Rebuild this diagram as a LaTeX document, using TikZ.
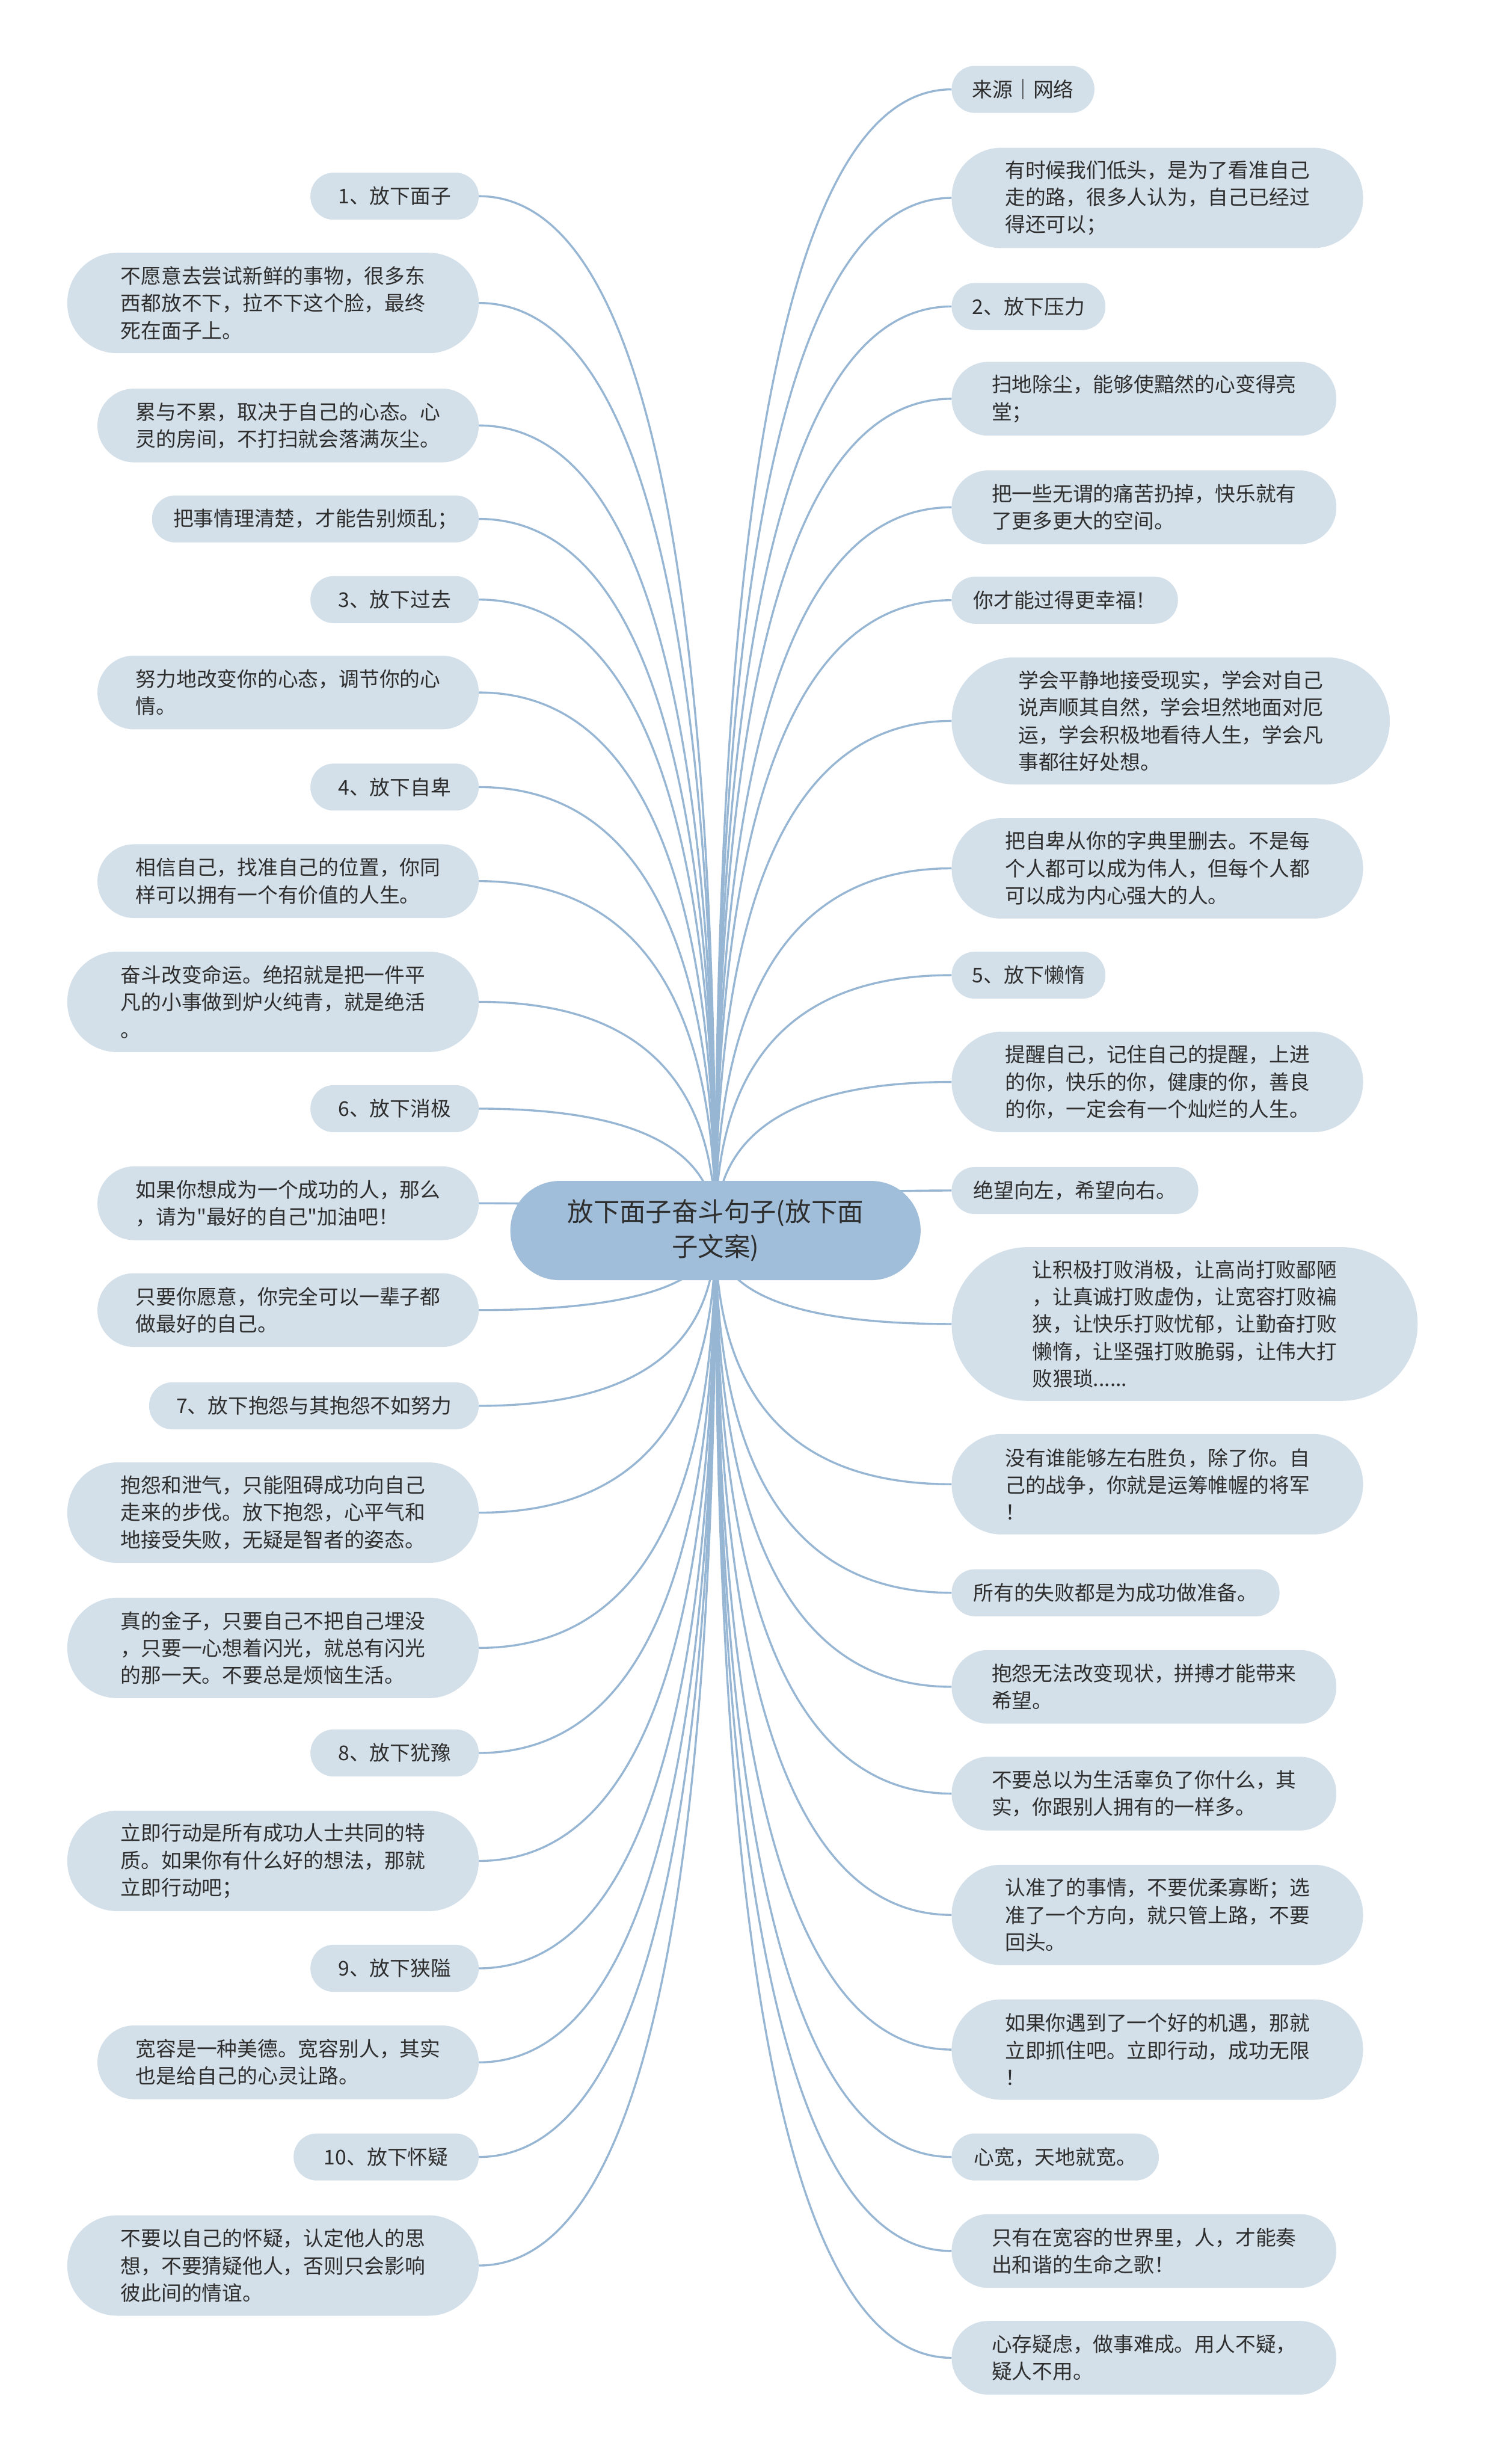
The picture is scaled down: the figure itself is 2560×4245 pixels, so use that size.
\documentclass[tikz,border=0pt]{standalone}
\usepackage{fontspec}
\newfontfamily\cjk{Noto Sans CJK SC}
\usetikzlibrary{calc,backgrounds}
\definecolor{leafc}{HTML}{D3E0EA}
\definecolor{ctrc}{HTML}{A0BED9}
\definecolor{linec}{HTML}{97B6D4}
\definecolor{txtc}{HTML}{2E2E2E}
\tikzset{
  leaf/.style={fill=leafc, text=txtc, inner sep=0pt, align=left,
    font=\cjk\fontsize{35}{47}\selectfont},
  ctrnode/.style={fill=ctrc, text=txtc, inner sep=0pt, align=center,
    font=\cjk\fontsize{45}{60}\selectfont,
    minimum width=707pt, minimum height=171pt, rounded corners=85pt},
  cline/.style={draw=linec, line width=3.5pt},
}
\newcommand\mkleaf[6]{%
  \pgfmathsetmacro\hh{81+46*(#5-1)}%
  \pgfmathsetmacro\ww{#3-#2}%
  \pgfmathsetmacro\xc{(#2+#3)/2}%
  \pgfmathsetmacro\rr{\hh/2-0.5}%
  \node[leaf, minimum width=\ww pt, minimum height=\hh pt, rounded corners=\rr pt] (#1) at (\xc,#4) {#6};%
}
\newcommand\conn[2]{%
  \draw[cline] (ctr.center) .. controls ($(ctr.center)!0.6667!(ctr.center|-#1.#2)$) and ($(#1.#2)!0.6667!(ctr.center|-#1.#2)$) .. (#1.#2);%
}
\begin{document}
\begin{tikzpicture}[x=1pt,y=-1pt]
\useasboundingbox (0,0) rectangle (2560,4245);
\node[ctrnode] (ctr) at (1233,2120) {放下面子奋斗句子(放下面\\子文案)};
% left column
\mkleaf{L1}{535}{825}{338}{1}{1、放下面子}
\mkleaf{L2}{116}{825}{522}{3}{不愿意去尝试新鲜的事物，很多东\\西都放不下，拉不下这个脸，最终\\死在面子上。}
\mkleaf{L3}{168}{825}{733}{2}{累与不累，取决于自己的心态。心\\灵的房间，不打扫就会落满灰尘。}
\mkleaf{L4}{262}{825}{894}{1}{把事情理清楚，才能告别烦乱；}
\mkleaf{L5}{535}{825}{1033}{1}{3、放下过去}
\mkleaf{L6}{168}{825}{1193}{2}{努力地改变你的心态，调节你的心\\情。}
\mkleaf{L7}{535}{825}{1356}{1}{4、放下自卑}
\mkleaf{L8}{168}{825}{1518}{2}{相信自己，找准自己的位置，你同\\样可以拥有一个有价值的人生。}
\mkleaf{L9}{116}{825}{1726}{3}{奋斗改变命运。绝招就是把一件平\\凡的小事做到炉火纯青，就是绝活\\。}
\mkleaf{L10}{535}{825}{1910}{1}{6、放下消极}
\mkleaf{L11}{168}{825}{2073}{2}{如果你想成为一个成功的人，那么\\，请为"最好的自己"加油吧！}
\mkleaf{L12}{168}{825}{2257}{2}{只要你愿意，你完全可以一辈子都\\做最好的自己。}
\mkleaf{L13}{257}{825}{2422}{1}{7、放下抱怨与其抱怨不如努力}
\mkleaf{L14}{116}{825}{2606}{3}{抱怨和泄气，只能阻碍成功向自己\\走来的步伐。放下抱怨，心平气和\\地接受失败，无疑是智者的姿态。}
\mkleaf{L15}{116}{825}{2839}{3}{真的金子，只要自己不把自己埋没\\，只要一心想着闪光，就总有闪光\\的那一天。不要总是烦恼生活。}
\mkleaf{L16}{535}{825}{3020}{1}{8、放下犹豫}
\mkleaf{L17}{116}{825}{3206}{3}{立即行动是所有成功人士共同的特\\质。如果你有什么好的想法，那就\\立即行动吧；}
\mkleaf{L18}{535}{825}{3391}{1}{9、放下狭隘}
\mkleaf{L19}{168}{825}{3553}{2}{宽容是一种美德。宽容别人，其实\\也是给自己的心灵让路。}
\mkleaf{L20}{506}{825}{3716}{1}{10、放下怀疑}
\mkleaf{L21}{116}{825}{3903}{3}{不要以自己的怀疑，认定他人的思\\想，不要猜疑他人，否则只会影响\\彼此间的情谊。}
% right column
\mkleaf{R1}{1640}{1886}{154}{1}{来源｜网络}
\mkleaf{R2}{1640}{2349}{341}{3}{有时候我们低头，是为了看准自己\\走的路，很多人认为，自己已经过\\得还可以；}
\mkleaf{R3}{1640}{1905}{528}{1}{2、放下压力}
\mkleaf{R4}{1640}{2303}{687}{2}{扫地除尘，能够使黯然的心变得亮\\堂；}
\mkleaf{R5}{1640}{2303}{874}{2}{把一些无谓的痛苦扔掉，快乐就有\\了更多更大的空间。}
\mkleaf{R6}{1640}{2030}{1034}{1}{你才能过得更幸福！}
\mkleaf{R7}{1640}{2395}{1242}{4}{学会平静地接受现实，学会对自己\\说声顺其自然，学会坦然地面对厄\\运，学会积极地看待人生，学会凡\\事都往好处想。}
\mkleaf{R8}{1640}{2349}{1496}{3}{把自卑从你的字典里删去。不是每\\个人都可以成为伟人，但每个人都\\可以成为内心强大的人。}
\mkleaf{R9}{1640}{1905}{1680}{1}{5、放下懒惰}
\mkleaf{R10}{1640}{2349}{1864}{3}{提醒自己，记住自己的提醒，上进\\的你，快乐的你，健康的你，善良\\的你，一定会有一个灿烂的人生。}
\mkleaf{R11}{1640}{2065}{2051}{1}{绝望向左，希望向右。}
\mkleaf{R12}{1640}{2443}{2281}{5}{让积极打败消极，让高尚打败鄙陋\\，让真诚打败虚伪，让宽容打败褊\\狭，让快乐打败忧郁，让勤奋打败\\懒惰，让坚强打败脆弱，让伟大打\\败猥琐......}
\mkleaf{R13}{1640}{2349}{2557}{3}{没有谁能够左右胜负，除了你。自\\己的战争，你就是运筹帷幄的将军\\！}
\mkleaf{R14}{1640}{2205}{2744}{1}{所有的失败都是为成功做准备。}
\mkleaf{R15}{1640}{2303}{2906}{2}{抱怨无法改变现状，拼搏才能带来\\希望。}
\mkleaf{R16}{1640}{2303}{3090}{2}{不要总以为生活辜负了你什么，其\\实，你跟别人拥有的一样多。}
\mkleaf{R17}{1640}{2349}{3299}{3}{认准了的事情，不要优柔寡断；选\\准了一个方向，就只管上路，不要\\回头。}
\mkleaf{R18}{1640}{2349}{3531}{3}{如果你遇到了一个好的机遇，那就\\立即抓住吧。立即行动，成功无限\\！}
\mkleaf{R19}{1640}{1997}{3716}{1}{心宽，天地就宽。}
\mkleaf{R20}{1640}{2303}{3878}{2}{只有在宽容的世界里，人，才能奏\\出和谐的生命之歌！}
\mkleaf{R21}{1640}{2303}{4062}{2}{心存疑虑，做事难成。用人不疑，\\疑人不用。}
\begin{pgfonlayer}{background}
\fill[white] (0,0) rectangle (2560,4245);
\foreach \n in {L1,L2,L3,L4,L5,L6,L7,L8,L9,L10,L11,L12,L13,L14,L15,L16,L17,L18,L19,L20,L21}{\conn{\n}{east}}
\foreach \n in {R1,R2,R3,R4,R5,R6,R7,R8,R9,R10,R11,R12,R13,R14,R15,R16,R17,R18,R19,R20,R21}{\conn{\n}{west}}
\end{pgfonlayer}
\end{tikzpicture}
\end{document}
